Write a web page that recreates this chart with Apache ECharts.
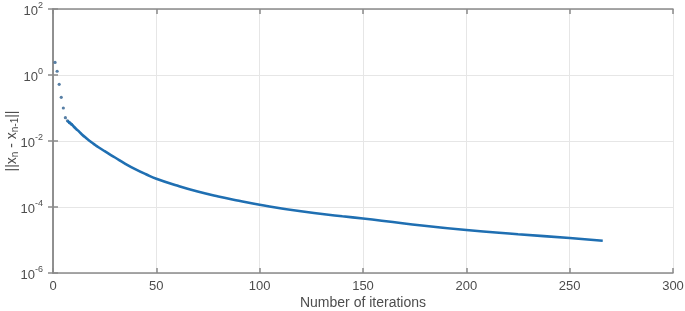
<!DOCTYPE html>
<html>
<head>
<meta charset="utf-8">
<script src="https://cdn.jsdelivr.net/npm/echarts@6/dist/echarts.min.js"></script>
<style>html,body{margin:0;padding:0;background:#fff;}#c{width:685px;height:311px;}</style>
</head>
<body>
<div id="c"></div>
<script>
// Early iterations, drawn as distinct dots
const dotIter = [1, 2, 3, 4, 5, 6, 7, 8, 9];
const dotVals = [2.4, 1.3, 0.52, 0.21, 0.10, 0.051, 0.041, 0.036, 0.032];
// Dense part of the sequence (dots merge into a curve), read at sample iterations
const curveIter = [7, 8, 9, 10, 12, 14, 16, 18, 20, 22, 25, 30, 35, 40, 45, 50, 60, 70, 80, 90, 100, 120, 140, 150, 170, 200, 225, 250, 266];
const curveVals = [0.041, 0.036, 0.032, 0.0275, 0.0209, 0.0158, 0.0123, 0.0098, 0.0079, 0.00646, 0.0049, 0.00316, 0.00204, 0.00138, 0.00098, 0.00072, 0.000447, 0.000295, 0.000209, 0.000155, 0.000117, 0.000074, 0.0000525, 0.0000447, 0.0000316, 0.000020, 0.000015, 0.0000115, 0.0000095];
const xTicks = [0, 50, 100, 150, 200, 250, 300];
const yExpLabels = [-6, -4, -2, 0, 2];

const FONT = '"Liberation Sans", Arial, Helvetica, sans-serif';
const TXT = '#4d4d4d';
const AX = '#8a8a8a';
const BLUE = '#1f6fb2';

const chart = echarts.init(document.getElementById('c'), null, {renderer: 'canvas'});

function expLabel(v) {
  const e = Math.round(Math.log10(v));
  if (yExpLabels.indexOf(e) < 0) return '';
  return '{b|10}{s|' + e + '}';
}

const commonX = {
  type: 'value', min: 0, max: 300, interval: 50,
  axisLine: {show: true, onZero: false, lineStyle: {color: AX, width: 1.5}},
  axisTick: {show: true, inside: true, length: 5, lineStyle: {color: AX, width: 1.5}},
  splitLine: {show: true, lineStyle: {color: '#e6e6e6', width: 1}}
};
const commonY = {
  type: 'log', logBase: 100, min: 1e-6, max: 1e2,
  axisLine: {show: true, lineStyle: {color: AX, width: 1.5}},
  axisTick: {show: true, inside: true, length: 5, lineStyle: {color: AX, width: 1.5}},
  splitLine: {show: true, lineStyle: {color: '#e6e6e6', width: 1}},
  minorTick: {show: false}
};

chart.setOption({
  animation: false,
  backgroundColor: '#fff',
  grid: {left: 53, right: 12, top: 9, bottom: 38, containLabel: false, outerBoundsMode: 'none'},
  xAxis: [
    Object.assign({}, commonX, {
      position: 'bottom',
      name: 'Number of iterations', nameLocation: 'middle', nameGap: 23, nameMoveOverlap: false,
      nameTextStyle: {color: TXT, fontSize: 14, fontFamily: FONT},
      axisLabel: {color: TXT, fontSize: 13, fontFamily: FONT, margin: 7,
        formatter: function (v) { return xTicks.indexOf(v) >= 0 ? String(v) : ''; }}
    }),
    Object.assign({}, commonX, {position: 'top', axisLabel: {show: false}, splitLine: {show: false}})
  ],
  yAxis: [
    Object.assign({}, commonY, {
      position: 'left',
      name: '||x{sub|n} - x{sub|n-1}||', nameLocation: 'middle', nameGap: 41, nameRotate: 90,
      nameMoveOverlap: false,
      nameTextStyle: {color: TXT, fontSize: 14, fontFamily: FONT, verticalAlign: 'middle',
        rich: {sub: {fontSize: 10, fontFamily: FONT, color: TXT, padding: [0, 0, -6, 0]}}},
      axisLabel: {color: TXT, margin: 10, formatter: expLabel,
        rich: {
          b: {fontSize: 13, fontFamily: FONT, color: TXT, lineHeight: 18, verticalAlign: 'bottom'},
          s: {fontSize: 9, fontFamily: FONT, color: TXT, lineHeight: 18, padding: [0, 0, 8, 0], verticalAlign: 'bottom'}
        }}
    }),
    Object.assign({}, commonY, {position: 'right', axisLabel: {show: false}, splitLine: {show: false}})
  ],
  series: [
    {
      type: 'line', xAxisIndex: 0, yAxisIndex: 0,
      data: curveIter.map((n, i) => [n, curveVals[i]]),
      showSymbol: false, smooth: 0.5,
      lineStyle: {color: BLUE, width: 2.6}
    },
    {
      type: 'scatter', xAxisIndex: 0, yAxisIndex: 0,
      data: dotIter.map((n, i) => [n, dotVals[i]]),
      symbol: 'circle', symbolSize: 3.2,
      itemStyle: {color: '#2d5f8f'}
    }
  ]
});
</script>
</body>
</html>
